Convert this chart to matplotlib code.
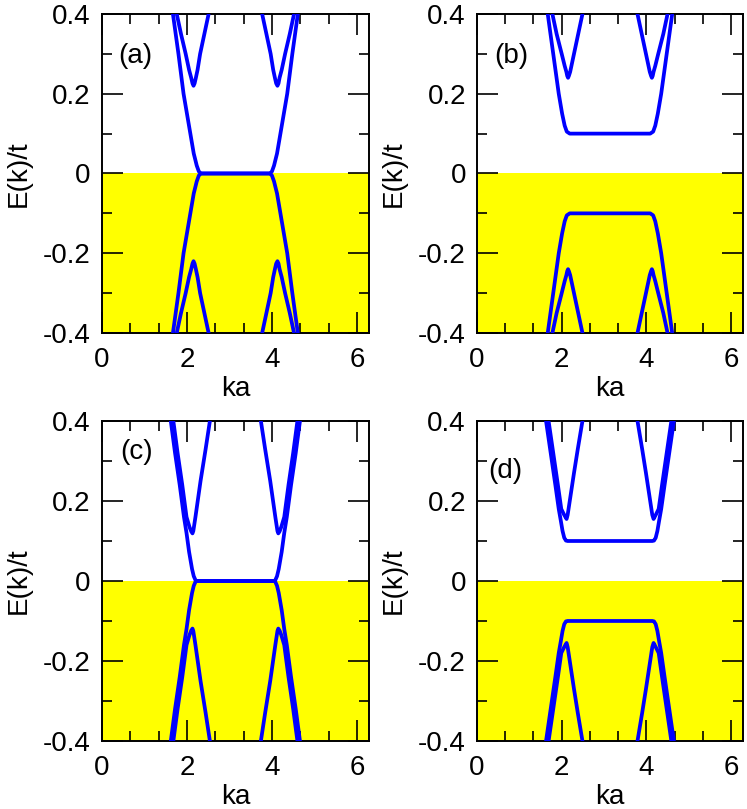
import matplotlib
matplotlib.use("Agg")
import matplotlib.pyplot as plt
import matplotlib.ticker as ticker
import numpy as np

plt.rcParams["font.family"] = ["Liberation Sans", "DejaVu Sans"]
plt.rcParams["axes.unicode_minus"] = False

_BLUE = "#0000ff"
_YELLOW = "#ffff00"
_FONT_SIZE = 20
_LINE_WIDTH = 2.7

# Conduction bands (E > 0); valence bands are drawn as -E.
# panel (a)
a_outer_k = [1.67, 1.80, 1.92, 2.08, 2.16, 2.20, 2.23, 2.28, 2.33,
             3.95, 4.00, 4.05, 4.08, 4.12, 4.20, 4.36, 4.48, 4.61]
a_outer_e = [0.40, 0.30, 0.20, 0.10, 0.05, 0.033, 0.02, 0.005, 0.0,
             0.0, 0.005, 0.02, 0.033, 0.05, 0.10, 0.20, 0.30, 0.40]
a_left_k = [1.76, 1.86, 1.97, 2.05, 2.10, 2.13, 2.155, 2.18, 2.21, 2.25, 2.31, 2.41, 2.51]
a_left_e = [0.40, 0.35, 0.30, 0.26, 0.24, 0.226, 0.22, 0.226, 0.24, 0.26, 0.30, 0.35, 0.40]
a_right_k = [3.77, 3.87, 3.97, 4.03, 4.07, 4.10, 4.13, 4.155, 4.18, 4.23, 4.31, 4.42, 4.52]
a_right_e = [0.40, 0.35, 0.30, 0.26, 0.24, 0.226, 0.22, 0.226, 0.24, 0.26, 0.30, 0.35, 0.40]

# panel (b)
b_outer_k = [1.67, 1.80, 1.93, 2.01, 2.07, 2.12, 2.19,
             4.09, 4.16, 4.21, 4.27, 4.35, 4.48, 4.61]
b_outer_e = [0.40, 0.30, 0.20, 0.15, 0.12, 0.105, 0.10,
             0.10, 0.105, 0.12, 0.15, 0.20, 0.30, 0.40]
b_left_k = [1.78, 1.88, 2.00, 2.07, 2.11, 2.13, 2.15, 2.17, 2.20, 2.23, 2.29, 2.39, 2.49]
b_left_e = [0.40, 0.35, 0.30, 0.27, 0.255, 0.245, 0.24, 0.245, 0.255, 0.27, 0.30, 0.35, 0.40]
b_right_k = [3.79, 3.89, 3.99, 4.05, 4.08, 4.11, 4.13, 4.15, 4.17, 4.21, 4.28, 4.40, 4.50]
b_right_e = [0.40, 0.35, 0.30, 0.27, 0.255, 0.245, 0.24, 0.245, 0.255, 0.27, 0.30, 0.35, 0.40]

# panel (c)
c_outer_k = [1.62, 1.72, 1.83, 1.93, 1.99, 2.05, 2.12, 2.16, 2.21,
             4.07, 4.12, 4.16, 4.23, 4.29, 4.35, 4.45, 4.56, 4.66]
c_outer_e = [0.40, 0.32, 0.24, 0.16, 0.12, 0.073, 0.03, 0.012, 0.0,
             0.0, 0.012, 0.03, 0.073, 0.12, 0.16, 0.24, 0.32, 0.40]
c_left_k = [1.68, 1.78, 1.89, 1.99, 2.06, 2.10, 2.13, 2.15, 2.20, 2.32, 2.44, 2.54]
c_left_e = [0.40, 0.32, 0.24, 0.16, 0.135, 0.124, 0.119, 0.125, 0.16, 0.25, 0.33, 0.40]
c_right_k = [3.74, 3.84, 3.96, 4.08, 4.13, 4.15, 4.18, 4.22, 4.29, 4.39, 4.50, 4.60]
c_right_e = [0.40, 0.33, 0.25, 0.16, 0.125, 0.119, 0.124, 0.135, 0.16, 0.24, 0.32, 0.40]

# panel (d)
d_outer_k = [1.63, 1.74, 1.85, 1.93, 1.98, 2.02, 2.06, 2.10, 2.14,
             4.14, 4.18, 4.22, 4.26, 4.30, 4.35, 4.43, 4.54, 4.65]
d_outer_e = [0.40, 0.32, 0.24, 0.18, 0.15, 0.125, 0.108, 0.101, 0.10,
             0.10, 0.101, 0.108, 0.125, 0.15, 0.18, 0.24, 0.32, 0.40]
d_left_k = [1.69, 1.80, 1.91, 1.99, 2.06, 2.115, 2.14, 2.19, 2.29, 2.38, 2.49]
d_left_e = [0.40, 0.32, 0.24, 0.18, 0.165, 0.155, 0.165, 0.20, 0.27, 0.33, 0.40]
d_right_k = [3.79, 3.90, 3.99, 4.09, 4.14, 4.17, 4.22, 4.29, 4.37, 4.48, 4.59]
d_right_e = [0.40, 0.33, 0.27, 0.20, 0.165, 0.155, 0.165, 0.18, 0.24, 0.32, 0.40]

panel_labels = ["(a)", "(b)", "(c)", "(d)"]
label_pos = [(0.38, 0.295), (0.40, 0.295), (0.42, 0.322), (0.27, 0.275)]

x_ticks = [0, 2, 4, 6]
y_ticks = [-0.4, -0.2, 0.0, 0.2, 0.4]


def _setup(ax):
    ax.set_xlim(0, 2 * np.pi)
    ax.set_ylim(-0.4, 0.4)
    # Occupied states
    ax.axhspan(-0.4, 0.0, color=_YELLOW, lw=0, zorder=0)
    ax.set_xticks(x_ticks)
    ax.set_yticks(y_ticks)
    ax.xaxis.set_minor_locator(ticker.MultipleLocator(2.0 / 3.0))
    ax.yaxis.set_minor_locator(ticker.MultipleLocator(0.1))
    ax.yaxis.set_major_formatter(ticker.FuncFormatter(lambda v, pos: "%g" % round(v, 2)))
    ax.tick_params(which="both", direction="in", top=True, right=True,
                   width=1.2, labelsize=_FONT_SIZE)
    ax.tick_params(which="major", length=15, pad=8)
    ax.tick_params(which="minor", length=7.5)
    ax.tick_params(axis="x", which="major", pad=10)
    for s in ax.spines.values():
        s.set_linewidth(1.4)
    ax.set_xlabel("ka", fontsize=_FONT_SIZE, labelpad=2)
    ax.set_ylabel("E(k)/t", fontsize=_FONT_SIZE, labelpad=8)


def _plot_bands(ax, bands):
    for k, e in bands:
        ax.plot(k, e, color=_BLUE, lw=_LINE_WIDTH, zorder=3)
        ax.plot(k, -np.array(e), color=_BLUE, lw=_LINE_WIDTH, zorder=3)


fig = plt.figure(figsize=(7.47, 8.09), dpi=100)
rects = [[0.1365, 0.5884, 0.3574, 0.3943],
         [0.6386, 0.5884, 0.3561, 0.3943],
         [0.1365, 0.0841, 0.3574, 0.3955],
         [0.6386, 0.0841, 0.3561, 0.3955]]
all_bands = [
    [(a_outer_k, a_outer_e), (a_left_k, a_left_e), (a_right_k, a_right_e)],
    [(b_outer_k, b_outer_e), (b_left_k, b_left_e), (b_right_k, b_right_e)],
    [(c_outer_k, c_outer_e), (c_left_k, c_left_e), (c_right_k, c_right_e)],
    [(d_outer_k, d_outer_e), (d_left_k, d_left_e), (d_right_k, d_right_e)],
]

for rect, bands, lab, pos in zip(rects, all_bands, panel_labels, label_pos):
    ax = fig.add_axes(rect)
    _setup(ax)
    _plot_bands(ax, bands)
    ax.text(pos[0], pos[1], lab, fontsize=_FONT_SIZE, ha="left", va="center")

fig.savefig("out.png", dpi=100)
